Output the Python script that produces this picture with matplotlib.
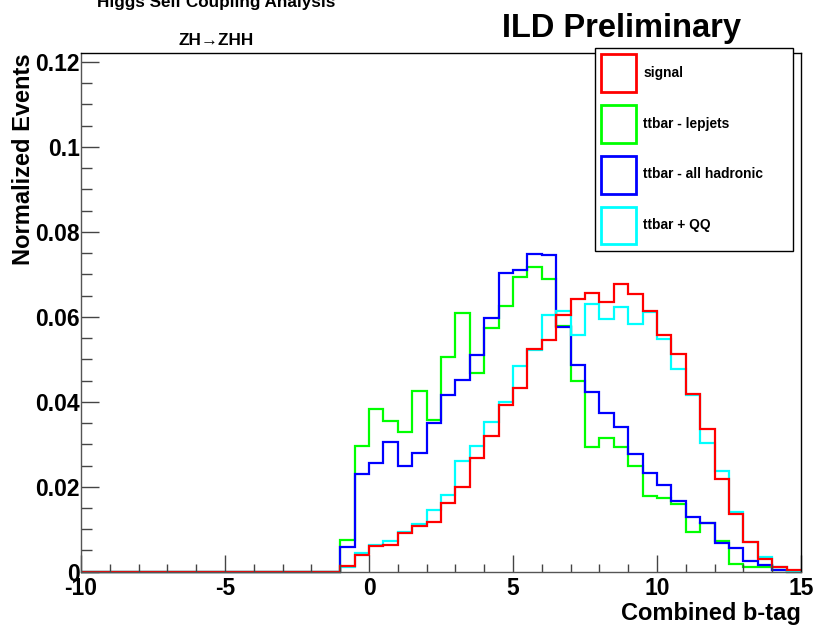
import numpy as np
import matplotlib
matplotlib.use("Agg")
import matplotlib.pyplot as plt
from matplotlib.patches import Patch
from matplotlib.ticker import MultipleLocator, FuncFormatter

plt.rcParams['font.family'] = ['Liberation Sans', 'DejaVu Sans']
plt.rcParams['font.weight'] = 'bold'
plt.rcParams['axes.unicode_minus'] = False

# binning: 50 bins of 0.5 from -10 to 15, all empty below -1
edges = np.arange(-10, 15.01, 0.5)
n_empty = 18

# bins from -1 to 15
signal = [0.0013, 0.0039, 0.0060, 0.0064, 0.0090, 0.0107, 0.0118, 0.0161,
          0.0199, 0.0267, 0.0320, 0.0392, 0.0432, 0.0524, 0.0546, 0.0604,
          0.0643, 0.0655, 0.0634, 0.0677, 0.0653, 0.0614, 0.0558, 0.0512,
          0.0419, 0.0337, 0.0218, 0.0137, 0.0070, 0.0029, 0.0010, 0.0004]
lepjets = [0.0075, 0.0296, 0.0383, 0.0355, 0.0329, 0.0425, 0.0357, 0.0506,
           0.0609, 0.0468, 0.0574, 0.0625, 0.0694, 0.0718, 0.0689, 0.0579,
           0.0450, 0.0294, 0.0314, 0.0293, 0.0248, 0.0178, 0.0173, 0.0160,
           0.0094, 0.0115, 0.0072, 0.0018, 0.0012, 0.0010, 0.0003, 0.0]
hadronic = [0.0059, 0.0230, 0.0255, 0.0305, 0.0248, 0.0280, 0.0349, 0.0416,
            0.0452, 0.0509, 0.0598, 0.0704, 0.0710, 0.0747, 0.0745, 0.0577,
            0.0487, 0.0424, 0.0373, 0.0341, 0.0276, 0.0232, 0.0205, 0.0167,
            0.0128, 0.0114, 0.0067, 0.0056, 0.0026, 0.0017, 0.0004, 0.0]
ttqq = [0.0012, 0.0045, 0.0062, 0.0072, 0.0094, 0.0112, 0.0145, 0.0180,
        0.0260, 0.0296, 0.0353, 0.0400, 0.0485, 0.0523, 0.0605, 0.0614,
        0.0558, 0.0631, 0.0595, 0.0622, 0.0583, 0.0612, 0.0548, 0.0478,
        0.0415, 0.0303, 0.0237, 0.0140, 0.0070, 0.0034, 0.0012, 0.0002]

labels = ["signal", "ttbar - lepjets", "ttbar - all hadronic", "ttbar + QQ"]
colors = ["#ff0000", "#00ff00", "#0000ff", "#00ffff"]

fig = plt.figure(figsize=(8.25, 6.26), dpi=100)
ax = fig.add_axes([0.0982, 0.0867, 0.8727, 0.8286])

# draw order: green, blue, cyan, red on top
for vals, c in [(lepjets, colors[1]), (hadronic, colors[2]), (ttqq, colors[3]), (signal, colors[0])]:
    full = np.concatenate([np.zeros(n_empty), vals])
    ax.stairs(full, edges, color=c, linewidth=1.6, baseline=None, clip_on=False)

ax.set_xlim(-10, 15)
ax.set_ylim(0, 0.1221)

ax.xaxis.set_major_locator(MultipleLocator(5))
ax.xaxis.set_minor_locator(MultipleLocator(1))
ax.yaxis.set_major_locator(MultipleLocator(0.02))
ax.yaxis.set_minor_locator(MultipleLocator(0.005))
ax.yaxis.set_major_formatter(FuncFormatter(lambda v, p: "%g" % round(v, 3)))

ax.tick_params(axis='x', which='major', direction='in', length=12, width=1, color='#444444', labelsize=16.5, pad=4)
ax.tick_params(axis='x', which='minor', direction='in', length=6, width=1, color='#444444')
ax.tick_params(axis='y', which='major', direction='in', length=13, width=1, color='#444444', labelsize=16.5, pad=1)
ax.tick_params(axis='y', which='minor', direction='in', length=8, width=1, color='#444444')
for lab in ax.get_xticklabels() + ax.get_yticklabels():
    lab.set_fontweight('bold')

for s in ax.spines.values():
    s.set_linewidth(1)
    s.set_color('black')
ax.spines['bottom'].set_color('#555555')
ax.spines['left'].set_color('#555555')

ax.set_xlabel("Combined b-tag", fontsize=17, fontweight='bold', loc='right')
ax.xaxis.set_label_coords(1.0, -0.059)
ax.set_ylabel("Normalized Events", fontsize=17, fontweight='bold', loc='top')
ax.yaxis.set_label_coords(-0.064, 1.0)

fig.text(0.262, 1 - 7 / 626, "Higgs Self Coupling Analysis", ha='center', va='baseline',
         fontsize=12.3, fontweight='bold')
fig.text(0.262, 1 - 45 / 626, "ZH\u2192ZHH", ha='center', va='baseline',
         fontsize=12.3, fontweight='bold')
fig.text(0.753, 1 - 37 / 626, "ILD Preliminary", ha='center', va='baseline',
         fontsize=23.5, fontweight='bold')

handles = [Patch(facecolor='white', edgecolor=c, linewidth=2) for c in colors]
leg = ax.legend(handles, labels, loc='upper left', mode='expand',
                bbox_to_anchor=(595 / 825, 1 - 48 / 626 - 0.01, 198 / 825, 0.01),
                bbox_transform=fig.transFigure, fontsize=9.9, frameon=True,
                fancybox=False, framealpha=1, edgecolor='black',
                handlelength=2.55, handleheight=3.85, labelspacing=0.95,
                borderpad=0.45, handletextpad=0.5, borderaxespad=0)
leg.get_frame().set_linewidth(1)
for t in leg.get_texts():
    t.set_fontweight('bold')
leg.set_zorder(10)

fig.savefig("out.png", dpi=100)
